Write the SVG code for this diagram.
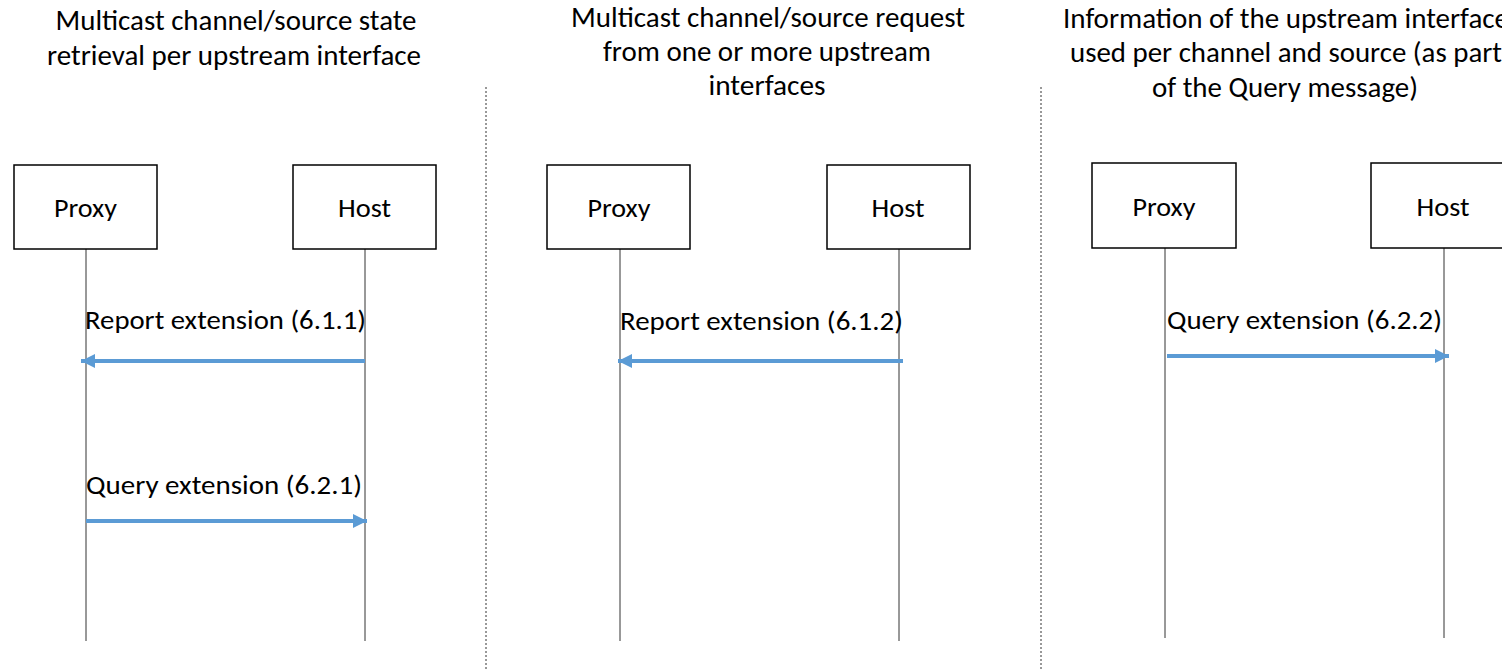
<svg xmlns="http://www.w3.org/2000/svg" width="1502" height="671" viewBox="0 0 1502 671">
<style>
text{font-family:Carlito,Calibri,"Liberation Sans",sans-serif;fill:#000}
.t{font-size:28px;text-anchor:middle}
.n{font-size:26px;text-anchor:middle}
.l{font-size:26px}
.box{fill:#fff;stroke:#000;stroke-width:1.5}
.life{stroke:#333;stroke-width:1}
.div{stroke:#333;stroke-width:1;stroke-dasharray:2 2}
.msg{stroke:#5B9BD5;stroke-width:4;fill:none}
</style>
<defs>
<marker id="ah" viewBox="0 0 10 10" refX="10" refY="5" markerWidth="3.6" markerHeight="3.6" orient="auto" markerUnits="strokeWidth">
<path d="M0,0 L10,5 L0,10 Z" fill="#5B9BD5"/>
</marker>
</defs>
<rect width="1502" height="671" fill="#fff"/>
<g id="titles">
<text class="t" x="236" y="30" textLength="361" lengthAdjust="spacingAndGlyphs">Multicast channel/source state</text>
<text class="t" x="234" y="65" textLength="374" lengthAdjust="spacingAndGlyphs">retrieval per upstream interface</text>
<text class="t" x="768" y="27" textLength="394" lengthAdjust="spacingAndGlyphs">Multicast channel/source request</text>
<text class="t" x="767" y="61" textLength="328" lengthAdjust="spacingAndGlyphs">from one or more upstream</text>
<text class="t" x="767" y="95" textLength="117" lengthAdjust="spacingAndGlyphs">interfaces</text>
<text class="t" x="1286" y="28" textLength="446" lengthAdjust="spacingAndGlyphs">Information of the upstream interface</text>
<text class="t" x="1286" y="62" textLength="432" lengthAdjust="spacingAndGlyphs">used per channel and source (as part</text>
<text class="t" x="1285" y="97" textLength="266" lengthAdjust="spacingAndGlyphs">of the Query message)</text>
</g>
<g id="dividers">
<line class="div" x1="486" y1="87" x2="486" y2="671"/>
<line class="div" x1="1041" y1="87" x2="1041" y2="671"/>
</g>
<g id="lifelines">
<line class="life" x1="86" y1="249" x2="86" y2="641"/>
<line class="life" x1="365" y1="249" x2="365" y2="641"/>
<line class="life" x1="620" y1="249" x2="620" y2="641"/>
<line class="life" x1="899" y1="249" x2="899" y2="641"/>
<line class="life" x1="1165" y1="248" x2="1165" y2="638"/>
<line class="life" x1="1444" y1="248" x2="1444" y2="638"/>
</g>
<g id="proxy1"><rect class="box" x="14" y="165" width="143" height="84"/><text class="n" x="85.5" y="217" textLength="63" lengthAdjust="spacingAndGlyphs">Proxy</text></g>
<g id="host1"><rect class="box" x="293" y="165" width="143" height="84"/><text class="n" x="364.5" y="217" textLength="53" lengthAdjust="spacingAndGlyphs">Host</text></g>
<g id="proxy2"><rect class="box" x="547" y="165" width="143" height="84"/><text class="n" x="619" y="217" textLength="63" lengthAdjust="spacingAndGlyphs">Proxy</text></g>
<g id="host2"><rect class="box" x="827" y="165" width="143" height="84"/><text class="n" x="898" y="217" textLength="53" lengthAdjust="spacingAndGlyphs">Host</text></g>
<g id="proxy3"><rect class="box" x="1092" y="163" width="144" height="85"/><text class="n" x="1164" y="216" textLength="63" lengthAdjust="spacingAndGlyphs">Proxy</text></g>
<g id="host3"><rect class="box" x="1371" y="163" width="144" height="85"/><text class="n" x="1443" y="216" textLength="53" lengthAdjust="spacingAndGlyphs">Host</text></g>
<g id="connectors">
<line class="msg" x1="365" y1="361" x2="81" y2="361" marker-end="url(#ah)"/>
<text class="l" x="85" y="329" textLength="281" lengthAdjust="spacingAndGlyphs">Report extension (6.1.1)</text>
<line class="msg" x1="86" y1="521" x2="367" y2="521" marker-end="url(#ah)"/>
<text class="l" x="86" y="494" textLength="276" lengthAdjust="spacingAndGlyphs">Query extension (6.2.1)</text>
<line class="msg" x1="903" y1="361" x2="618" y2="361" marker-end="url(#ah)"/>
<text class="l" x="620" y="330" textLength="283" lengthAdjust="spacingAndGlyphs">Report extension (6.1.2)</text>
<line class="msg" x1="1167" y1="356" x2="1449" y2="356" marker-end="url(#ah)"/>
<text class="l" x="1167" y="329" textLength="275" lengthAdjust="spacingAndGlyphs">Query extension (6.2.2)</text>
</g>
</svg>
